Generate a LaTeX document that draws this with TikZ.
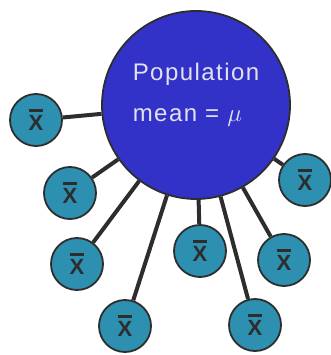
\documentclass[tikz,border=0pt]{standalone}
\usepackage{fontspec}
\setmainfont{Liberation Sans}
\usepackage{xcolor}
\usepackage{tikz}
\usetikzlibrary{positioning}

\definecolor{popblue}{RGB}{50,50,200}
\definecolor{sampleteal}{RGB}{46,144,176}
\definecolor{edgegray}{RGB}{45,45,45}
\definecolor{poptext}{RGB}{225,225,240}

\newcommand{\xbarsym}{\leavevmode\vbox{\hrule height 2.8pt\kern 3.2pt\hbox{\bfseries X}}}

\begin{document}
\begin{tikzpicture}[
  x=1pt, y=-1pt,
  pop/.style={circle, draw=edgegray, line width=1.8pt, fill=popblue,
              minimum size=188pt, inner sep=0pt},
  sample/.style={circle, draw=edgegray, line width=1.8pt, fill=sampleteal,
                 minimum size=52pt, inner sep=0pt, text=edgegray,
                 font=\fontsize{22}{22}\selectfont},
  edge/.style={line width=4pt, edgegray}
]
  \useasboundingbox (0,0) rectangle (330,355);

  \node[pop] (population) at (196,105) {};
  \node[text=poptext, align=left, inner sep=0pt,
        font=\fontsize{24}{41}\selectfont\addfontfeatures{LetterSpace=6}]
        (label) at (196,95) {Population\\mean = $\mu$};

  \node[sample] (s1) at (36,120) {\xbarsym};
  \node[sample] (s2) at (70,193) {\xbarsym};
  \node[sample] (s3) at (77,264) {\xbarsym};
  \node[sample] (s4) at (125,326) {\xbarsym};
  \node[sample] (s5) at (200,251) {\xbarsym};
  \node[sample] (s6) at (255,325) {\xbarsym};
  \node[sample] (s7) at (284,260) {\xbarsym};
  \node[sample] (s8) at (305,180) {\xbarsym};

  \foreach \s in {s1,s2,s3,s4,s5,s6,s7,s8}
    \draw[edge] (population) -- (\s);
\end{tikzpicture}
\end{document}
